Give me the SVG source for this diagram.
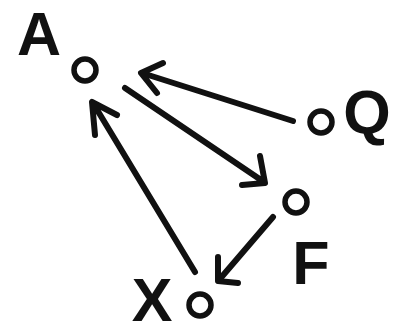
<svg xmlns="http://www.w3.org/2000/svg" width="393" height="335" viewBox="0 0 393 335">
<style>
.lbl{font-family:"Liberation Sans",Arial,sans-serif;font-weight:bold;font-size:61px;fill:#111;text-anchor:middle}
.nd{fill:none;stroke:#111;stroke-width:5.5}
.ln{fill:none;stroke:#111;stroke-width:6;stroke-linecap:round;stroke-linejoin:round}
</style>
<rect width="393" height="335" fill="#fff"/>
<g id="node-A"><circle class="nd" cx="85" cy="70" r="11"/><text class="lbl" x="39" y="55">A</text></g>
<g id="node-Q"><circle class="nd" cx="321" cy="122" r="11"/><text class="lbl" x="367" y="133">Q</text></g>
<g id="node-F"><circle class="nd" cx="296" cy="202" r="11"/><text class="lbl" x="311" y="284">F</text></g>
<g id="node-X"><circle class="nd" cx="200" cy="305" r="11"/><text class="lbl" x="152" y="321">X</text></g>
<g id="connectors">
<path class="ln" d="M293,121 L142,73 M163,63 L141,73 L157,93"/>
<path class="ln" d="M125,88 L264,182 M260,156 L265,183 L242,185"/>
<path class="ln" d="M195,272 L93,103 M117,115 L92,102 L95,135"/>
<path class="ln" d="M273,217 L219,280 M218,257 L218,281 L238,283"/>
</g>
</svg>
